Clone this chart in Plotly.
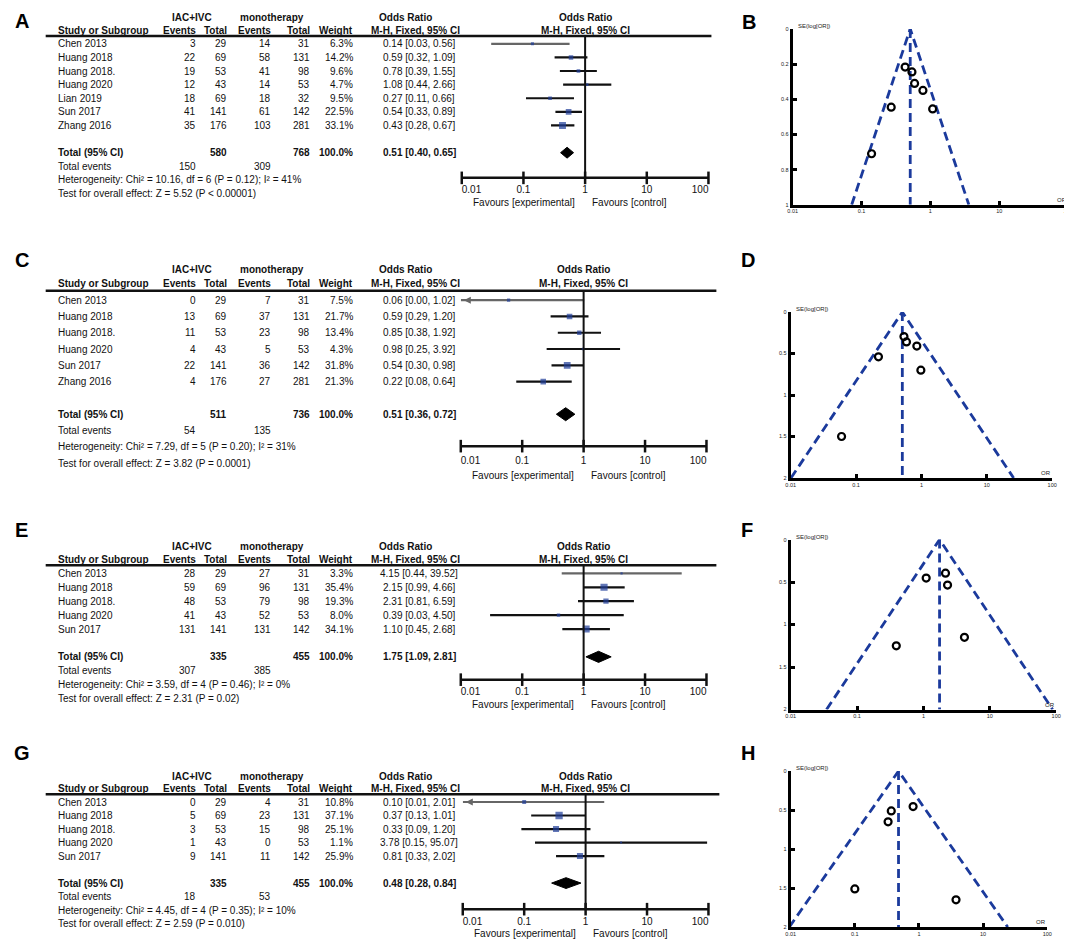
import plotly.graph_objects as go

W, H = 1072, 939
FONT = "Liberation Sans, Arial, sans-serif"
SQUARE_BLUE = "#1f3d99"
FUNNEL_BLUE = "#1b3a9c"

# ---------------- A / B ----------------
studies_a = ["Chen 2013", "Huang 2018", "Huang 2018.", "Huang 2020", "Lian 2019", "Sun 2017", "Zhang 2016"]
ev1_a = [3, 22, 19, 12, 18, 41, 35]
tot1_a = [29, 69, 53, 43, 69, 141, 176]
ev2_a = [14, 58, 41, 14, 18, 61, 103]
tot2_a = [31, 131, 98, 53, 32, 142, 281]
weight_a = [6.3, 14.2, 9.6, 4.7, 9.5, 22.5, 33.1]
or_a = [0.14, 0.59, 0.78, 1.08, 0.27, 0.54, 0.43]
lo_a = [0.03, 0.32, 0.39, 0.44, 0.11, 0.33, 0.28]
hi_a = [0.56, 1.09, 1.55, 2.66, 0.66, 0.89, 0.67]
totals_a = [580, 768]
events_a = [150, 309]
pooled_a = [0.51, 0.40, 0.65]
het_a = "Heterogeneity: Chi² = 10.16, df = 6 (P = 0.12); I² = 41%"
test_a = "Test for overall effect: Z = 5.52 (P < 0.00001)"
se_b = [0.71, 0.31, 0.35, 0.455, 0.445, 0.245, 0.217]
limits_b = [0.072, 3.62]

# ---------------- C / D ----------------
studies_c = ["Chen 2013", "Huang 2018", "Huang 2018.", "Huang 2020", "Sun 2017", "Zhang 2016"]
ev1_c = [0, 13, 11, 4, 22, 4]
tot1_c = [29, 69, 53, 43, 141, 176]
ev2_c = [7, 37, 23, 5, 36, 27]
tot2_c = [31, 131, 98, 53, 142, 281]
weight_c = [7.5, 21.7, 13.4, 4.3, 31.8, 21.3]
or_c = [0.06, 0.59, 0.85, 0.98, 0.54, 0.22]
lo_c = [0.00, 0.29, 0.38, 0.25, 0.30, 0.08]
hi_c = [1.02, 1.20, 1.92, 3.92, 0.98, 0.64]
totals_c = [511, 736]
events_c = [54, 135]
pooled_c = [0.51, 0.36, 0.72]
het_c = "Heterogeneity: Chi² = 7.29, df = 5 (P = 0.20); I² = 31%"
test_c = "Test for overall effect: Z = 3.82 (P = 0.0001)"
se_d = [1.5, 0.36, 0.41, 0.70, 0.295, 0.54]
limits_d = [0.0101, 25.7]

# ---------------- E / F ----------------
studies_e = ["Chen 2013", "Huang 2018", "Huang 2018.", "Huang 2020", "Sun 2017"]
ev1_e = [28, 59, 48, 41, 131]
tot1_e = [29, 69, 53, 43, 141]
ev2_e = [27, 96, 79, 52, 131]
tot2_e = [31, 131, 98, 53, 142]
weight_e = [3.3, 35.4, 19.3, 8.0, 34.1]
or_e = [4.15, 2.15, 2.31, 0.39, 1.10]
lo_e = [0.44, 0.99, 0.81, 0.03, 0.45]
hi_e = [39.52, 4.66, 6.59, 4.50, 2.68]
totals_e = [335, 455]
events_e = [307, 385]
pooled_e = [1.75, 1.09, 2.81]
het_e = "Heterogeneity: Chi² = 3.59, df = 4 (P = 0.46); I² = 0%"
test_e = "Test for overall effect: Z = 2.31 (P = 0.02)"
se_f = [1.15, 0.395, 0.535, 1.25, 0.453]
limits_f = [0.0347, 88.3]

# ---------------- G / H ----------------
studies_g = ["Chen 2013", "Huang 2018", "Huang 2018.", "Huang 2020", "Sun 2017"]
ev1_g = [0, 5, 3, 1, 9]
tot1_g = [29, 69, 53, 43, 141]
ev2_g = [4, 23, 15, 0, 11]
tot2_g = [31, 131, 98, 53, 142]
weight_g = [10.8, 37.1, 25.1, 1.1, 25.9]
or_g = [0.10, 0.37, 0.33, 3.78, 0.81]
lo_g = [0.01, 0.13, 0.09, 0.15, 0.33]
hi_g = [2.01, 1.01, 1.20, 95.07, 2.02]
totals_g = [335, 455]
events_g = [18, 53]
pooled_g = [0.48, 0.28, 0.84]
het_g = "Heterogeneity: Chi² = 4.45, df = 4 (P = 0.35); I² = 10%"
test_g = "Test for overall effect: Z = 2.59 (P = 0.010)"
se_h = [1.51, 0.51, 0.65, 1.65, 0.455]
limits_h = [0.0095, 24.2]

or_ticks = [0.01, 0.1, 1, 10, 100]
or_tick_labels = ["0.01", "0.1", "1", "10", "100"]
se_ticks_1 = [0, 0.2, 0.4, 0.6, 0.8, 1]
se_tick_labels_1 = ["0", "0.2", "0.4", "0.6", "0.8", "1"]
se_ticks_2 = [0, 0.5, 1, 1.5, 2]
se_tick_labels_2 = ["0", "0.5", "1", "1.5", "2"]

forest = [
    dict(letter="A", studies=studies_a, ev1=ev1_a, tot1=tot1_a, ev2=ev2_a, tot2=tot2_a, weight=weight_a,
         odds=or_a, lo=lo_a, hi=hi_a, totals=totals_a, events=events_a, pooled=pooled_a, het=het_a, test=test_a,
         y0=19.3, step=13.7, axis_off=3.85, xpx=(453, 702), line_end=705, letter_y=10),
    dict(letter="C", studies=studies_c, ev1=ev1_c, tot1=tot1_c, ev2=ev2_c, tot2=tot2_c, weight=weight_c,
         odds=or_c, lo=lo_c, hi=hi_c, totals=totals_c, events=events_c, pooled=pooled_c, het=het_c, test=test_c,
         y0=274.6, step=16.4, axis_off=3.96, xpx=(452, 700), line_end=710, letter_y=251),
    dict(letter="E", studies=studies_e, ev1=ev1_e, tot1=tot1_e, ev2=ev2_e, tot2=tot2_e, weight=weight_e,
         odds=or_e, lo=lo_e, hi=hi_e, totals=totals_e, events=events_e, pooled=pooled_e, het=het_e, test=test_e,
         y0=552, step=14.0, axis_off=3.64, xpx=(452, 700), line_end=710, letter_y=522),
    dict(letter="G", studies=studies_g, ev1=ev1_g, tot1=tot1_g, ev2=ev2_g, tot2=tot2_g, weight=weight_g,
         odds=or_g, lo=lo_g, hi=hi_g, totals=totals_g, events=events_g, pooled=pooled_g, het=het_g, test=test_g,
         y0=782.5, step=13.6, axis_off=3.93, xpx=(454, 702), line_end=713, letter_y=747),
]

funnels = [
    dict(letter="B", odds=or_a, se=se_b, pooled=pooled_a[0], limits=limits_b, se_max=1,
         yt=se_ticks_1, ytl=se_tick_labels_1, xpx=(787, 1065), ypx=(18, 195), lxy=(743, 11)),
    dict(letter="D", odds=or_c, se=se_d, pooled=pooled_c[0], limits=limits_d, se_max=2,
         yt=se_ticks_2, ytl=se_tick_labels_2, xpx=(785, 1049), ypx=(303, 470), lxy=(742, 251)),
    dict(letter="F", odds=or_e, se=se_f, pooled=pooled_e[0], limits=limits_f, se_max=2,
         yt=se_ticks_2, ytl=se_tick_labels_2, xpx=(785, 1053), ypx=(532, 703), lxy=(741, 522)),
    dict(letter="H", odds=or_g, se=se_h, pooled=pooled_g[0], limits=limits_h, se_max=2,
         yt=se_ticks_2, ytl=se_tick_labels_2, xpx=(785, 1044), ypx=(765, 922), lxy=(742, 747)),
]

# table column positions (px)
COL_STUDY = 43
COL_EV1, COL_TOT1, COL_EV2, COL_TOT2, COL_W = 187, 218, 262, 302, 345
COL_OR = 410

fig = go.Figure()
annotations = []
shapes = []
layout = {}


def sfx(n):
    return "" if n == 1 else str(n)


def txt(text, xpx, y, yref, anchor="left", bold=False, size=10):
    annotations.append(dict(
        text=f"<b>{text}</b>" if bold else text, x=xpx / W, xref="paper", y=y, yref=yref,
        xanchor=anchor, yanchor="middle", showarrow=False,
        font=dict(size=size, family=FONT, color="#111")))


def letter(ch, xpx, ypx):
    annotations.append(dict(
        text=f"<b>{ch}</b>", x=xpx / W, y=1 - ypx / H, xref="paper", yref="paper",
        xanchor="center", yanchor="middle", showarrow=False,
        font=dict(size=20, family=FONT, color="#000")))


# ---------------- forest plots ----------------
for i, p in enumerate(forest):
    n = i + 1
    xr, yr = "x" + sfx(n), "y" + sfx(n)
    N = len(p["studies"])
    rows = list(range(1, N + 1))
    r_top, r_bot = -1.3, N + 6.2
    top_px = p["y0"] + r_top * p["step"]
    bot_px = p["y0"] + r_bot * p["step"]
    layout["xaxis" + sfx(n)] = dict(type="log", range=[-2, 2], domain=[p["xpx"][0] / W, p["xpx"][1] / W],
                                    anchor=yr, visible=False)
    layout["yaxis" + sfx(n)] = dict(range=[r_bot, r_top], domain=[1 - bot_px / H, 1 - top_px / H],
                                    anchor=xr, visible=False)
    axis_row = N + p["axis_off"]
    tot_row = N + 2

    letter(p["letter"], 9, p["letter_y"])

    # headers
    txt("IAC+IVC", 181, -0.9, yr, "center", True)
    txt("monotherapy", 261, -0.9, yr, "center", True)
    txt("Odds Ratio", 396, -0.9, yr, "center", True)
    txt("Study or Subgroup", COL_STUDY, 0, yr, "left", True)
    txt("Events", COL_EV1, 0, yr, "right", True)
    txt("Total", COL_TOT1, 0, yr, "right", True)
    txt("Events", COL_EV2, 0, yr, "right", True)
    txt("Total", COL_TOT2, 0, yr, "right", True)
    txt("Weight", COL_W, 0, yr, "right", True)
    txt("M-H, Fixed, 95% CI", 406, 0, yr, "center", True)
    for t, yy in (("Odds Ratio", -0.9), ("M-H, Fixed, 95% CI", 0)):
        annotations.append(dict(text=f"<b>{t}</b>", x=0, xref=xr, y=yy, yref=yr, xanchor="center",
                                yanchor="middle", showarrow=False,
                                font=dict(size=10, family=FONT, color="#111")))
    shapes.append(dict(type="line", xref="paper", yref=yr, x0=33 / W, x1=p["line_end"] / W,
                       y0=0.42, y1=0.42, line=dict(color="#111", width=2.5)))

    # study rows
    for k in range(N):
        r = rows[k]
        txt(p["studies"][k], COL_STUDY, r, yr)
        txt(str(p["ev1"][k]), COL_EV1, r, yr, "right")
        txt(str(p["tot1"][k]), COL_TOT1, r, yr, "right")
        txt(str(p["ev2"][k]), COL_EV2, r, yr, "right")
        txt(str(p["tot2"][k]), COL_TOT2, r, yr, "right")
        txt(f"{p['weight'][k]:.1f}%", COL_W, r, yr, "right")
        txt(f"{p['odds'][k]:.2f} [{p['lo'][k]:.2f}, {p['hi'][k]:.2f}]", COL_OR, r, yr, "center")

        col = "#666" if k == 0 else "#111"
        x0 = max(p["lo"][k], 0.01)
        fig.add_trace(go.Scatter(x=[x0, p["hi"][k]], y=[r, r], mode="lines", xaxis=xr, yaxis=yr,
                                 line=dict(color=col, width=2.2), hoverinfo="skip"))
        if p["lo"][k] <= 0.01:
            fig.add_trace(go.Scatter(x=[0.0112], y=[r], mode="markers", xaxis=xr, yaxis=yr,
                                     cliponaxis=False, hoverinfo="skip",
                                     marker=dict(symbol="arrow-left", size=7, color=col)))

    # totals
    txt("Total (95% CI)", COL_STUDY, tot_row, yr, "left", True)
    txt(str(p["totals"][0]), COL_TOT1, tot_row, yr, "right", True)
    txt(str(p["totals"][1]), COL_TOT2, tot_row, yr, "right", True)
    txt("100.0%", COL_W, tot_row, yr, "right", True)
    pooled = p["pooled"]
    txt(f"{pooled[0]:.2f} [{pooled[1]:.2f}, {pooled[2]:.2f}]", COL_OR, tot_row, yr, "center", True)
    txt("Total events", COL_STUDY, tot_row + 1, yr)
    txt(str(p["events"][0]), COL_EV1, tot_row + 1, yr, "right")
    txt(str(p["events"][1]), COL_EV2, tot_row + 1, yr, "right")
    txt(p["het"], COL_STUDY, tot_row + 2, yr)
    txt(p["test"], COL_STUDY, tot_row + 3, yr)

    # squares
    fig.add_trace(go.Scatter(
        x=p["odds"], y=rows, mode="markers", xaxis=xr, yaxis=yr, hoverinfo="skip",
        marker=dict(symbol="square", color=SQUARE_BLUE,
                    size=[max(2.0, 1.2 * w ** 0.5) for w in p["weight"]], line=dict(width=0))))

    # diamond
    h = 0.4
    fig.add_trace(go.Scatter(
        x=[pooled[1], pooled[0], pooled[2], pooled[0], pooled[1]],
        y=[tot_row, tot_row - h, tot_row, tot_row + h, tot_row],
        mode="lines", fill="toself", fillcolor="#000", line=dict(color="#000", width=1),
        xaxis=xr, yaxis=yr, hoverinfo="skip"))

    # null line
    fig.add_trace(go.Scatter(x=[1, 1], y=[0.42, axis_row], mode="lines", xaxis=xr, yaxis=yr,
                             line=dict(color="#111", width=2), hoverinfo="skip"))
    # axis line + ticks + labels
    fig.add_trace(go.Scatter(x=[or_ticks[0], or_ticks[-1]], y=[axis_row, axis_row], mode="lines",
                             xaxis=xr, yaxis=yr, line=dict(color="#111", width=2.5), hoverinfo="skip"))
    fig.add_trace(go.Scatter(x=or_ticks, y=[axis_row] * len(or_ticks), mode="markers", xaxis=xr, yaxis=yr,
                             cliponaxis=False, hoverinfo="skip",
                             marker=dict(symbol="line-ns", size=9, line=dict(color="#111", width=2.5))))
    fig.add_trace(go.Scatter(x=or_ticks, y=[axis_row + 0.95] * len(or_ticks), mode="text", xaxis=xr, yaxis=yr,
                             text=or_tick_labels, cliponaxis=False, hoverinfo="skip",
                             textposition=["middle right", "middle center", "middle center",
                                           "middle center", "middle left"],
                             textfont=dict(size=10, family=FONT, color="#111")))
    fav_row = axis_row + 1.8
    annotations.append(dict(text="Favours [experimental]", x=0, xref=xr, y=fav_row, yref=yr,
                            xanchor="right", xshift=-8, yanchor="middle", showarrow=False,
                            font=dict(size=10, family=FONT, color="#111")))
    annotations.append(dict(text="Favours [control]", x=0, xref=xr, y=fav_row, yref=yr,
                            xanchor="left", xshift=5, yanchor="middle", showarrow=False,
                            font=dict(size=10, family=FONT, color="#111")))

# ---------------- funnel plots ----------------
for j, f in enumerate(funnels):
    n = j + 5
    xr, yr = "x" + sfx(n), "y" + sfx(n)
    (x0, x1), (y0, y1) = f["xpx"], f["ypx"]
    layout["xaxis" + sfx(n)] = dict(
        type="log", range=[-2, 2], domain=[x0 / W, x1 / W], anchor=yr,
        showline=True, linewidth=3, linecolor="#000", showgrid=False, zeroline=False,
        ticks="inside", ticklen=4, tickwidth=2.5, tickcolor="#000", ticklabelstandoff=-1,
        tickmode="array", tickvals=or_ticks, ticktext=or_tick_labels,
        tickfont=dict(size=5.5, family=FONT, color="#222"))
    layout["yaxis" + sfx(n)] = dict(
        range=[f["se_max"], 0], domain=[1 - y1 / H, 1 - y0 / H], anchor=xr,
        showline=True, linewidth=3, linecolor="#000", showgrid=False, zeroline=False,
        ticks="inside", ticklen=4, tickwidth=2.5, tickcolor="#000", ticklabelstandoff=0,
        tickmode="array", tickvals=f["yt"], ticktext=f["ytl"],
        tickfont=dict(size=5.5, family=FONT, color="#222"))

    letter(f["letter"], *f["lxy"])
    lo, hi = f["limits"]
    fig.add_trace(go.Scatter(x=[lo, f["pooled"], hi], y=[f["se_max"], 0, f["se_max"]], mode="lines",
                             xaxis=xr, yaxis=yr, hoverinfo="skip",
                             line=dict(color=FUNNEL_BLUE, width=2.8, dash="9px,5px")))
    fig.add_trace(go.Scatter(x=[f["pooled"], f["pooled"]], y=[0, f["se_max"]], mode="lines",
                             xaxis=xr, yaxis=yr, hoverinfo="skip",
                             line=dict(color=FUNNEL_BLUE, width=2.8, dash="9px,5px")))
    fig.add_trace(go.Scatter(x=f["odds"], y=f["se"], mode="markers", xaxis=xr, yaxis=yr,
                             hoverinfo="skip", cliponaxis=False,
                             marker=dict(symbol="circle-open", size=7, color="#000",
                                         line=dict(width=2.2, color="#000"))))
    annotations.append(dict(text="SE(log[OR])", x=(x0 + 3) / W, y=1 - (y0 - 3) / H, xref="paper",
                            yref="paper", xanchor="left", yanchor="middle", showarrow=False,
                            font=dict(size=6, family=FONT, color="#222")))
    annotations.append(dict(text="OR", x=(x1 + 1) / W, y=1 - (y1 - 5) / H, xref="paper",
                            yref="paper", xanchor="right", yanchor="middle", showarrow=False,
                            font=dict(size=6, family=FONT, color="#222")))

fig.update_layout(
    width=W, height=H, margin=dict(l=0, r=0, t=0, b=0),
    paper_bgcolor="white", plot_bgcolor="white", showlegend=False,
    font=dict(family=FONT, size=10, color="#111"),
    annotations=annotations, shapes=shapes, **layout)

fig.write_html("out.html")
